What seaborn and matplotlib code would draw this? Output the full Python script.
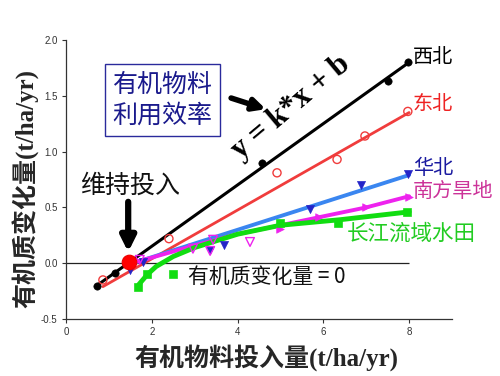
import matplotlib
matplotlib.use("Agg")
import matplotlib.pyplot as plt
import seaborn as sns
import pandas as pd
import numpy as np

# ---------------- data ----------------
# 西北 (north-west)
nw_x = [0.72, 1.14, 4.57, 7.50, 7.97]
nw_y = [-0.20, -0.09, 0.90, 1.63, 1.80]
nw_fit_x = [0.72, 8.0]
nw_fit_y = [-0.20, 1.80]

# 东北 (north-east)
ne_x = [0.86, 2.40, 4.92, 6.32, 6.97, 7.97]
ne_y = [-0.15, 0.22, 0.81, 0.93, 1.14, 1.36]
ne_fit_x = [0.86, 8.0]
ne_fit_y = [-0.21, 1.35]

# 华北 (north China)
nc_x = [1.49, 1.80, 3.36, 3.68, 5.69, 6.88, 7.97]
nc_y = [-0.06, 0.01, 0.12, 0.16, 0.49, 0.70, 0.80]
nc_fit_x = [1.40, 8.0]
nc_fit_y = [-0.02, 0.79]

# 南方旱地 (southern upland)
su_x = [1.72, 2.96, 3.36, 3.43, 4.29]
su_y = [0.03, 0.13, 0.11, 0.21, 0.19]
su_on_x = [5.00, 5.90, 7.00, 8.00]
su_on_y = [0.31, 0.41, 0.50, 0.59]
su_fit_x = [1.5, 2.0, 3.0, 4.0, 5.0, 6.0, 7.0, 8.0]
su_fit_y = [0.00, 0.05, 0.16, 0.26, 0.34, 0.42, 0.50, 0.60]

# 长江流域水田 (Yangtze paddy)
yp_x = [1.68, 1.89, 2.49, 5.00, 6.34, 7.95]
yp_y = [-0.21, -0.10, -0.10, 0.36, 0.36, 0.46]
yp_fit_x = [1.7, 1.9, 2.1, 2.5, 3.0, 3.5, 4.0, 5.0, 6.4, 8.0]
yp_fit_y = [-0.19, -0.10, -0.03, 0.06, 0.14, 0.20, 0.26, 0.34, 0.39, 0.46]

# maintenance input point
maint_x = [1.47]
maint_y = [0.01]

zero_x = [0, 8]

series_labels = ["西北", "东北", "华北", "南方旱地", "长江流域水田"]
x_ticks = [0, 2, 4, 6, 8]
y_ticks = [-0.5, 0.0, 0.5, 1.0, 1.5, 2.0]

# ---------------- style ----------------
sns.set_style("white")
plt.rcParams["font.family"] = ["Noto Sans CJK SC", "DejaVu Sans"]

fig = plt.figure(figsize=(5.0, 3.76), dpi=100)
ax = fig.add_axes([0.132, 0.1516, 0.772, 0.742])

c_black = "#000000"
c_red = "#f03c3c"
c_blue_line = "#3a86f0"
c_blue_mk = "#2424c8"
c_mag = "#ee22ee"
c_green = "#11dd11"

# fit lines
sns.lineplot(x=nw_fit_x, y=nw_fit_y, ax=ax, color=c_black, lw=2.2, zorder=3)
sns.lineplot(x=ne_fit_x, y=ne_fit_y, ax=ax, color=c_red, lw=2.0, zorder=3)
sns.lineplot(x=nc_fit_x, y=nc_fit_y, ax=ax, color=c_blue_line, lw=2.8, zorder=3)
sns.lineplot(x=su_fit_x, y=su_fit_y, ax=ax, color=c_mag, lw=2.8, zorder=3, sort=False)
sns.lineplot(x=yp_fit_x, y=yp_fit_y, ax=ax, color=c_green, lw=3.5, zorder=3, sort=False)

# points
sns.scatterplot(x=nw_x, y=nw_y, ax=ax, color=c_black, s=28, marker="o",
                edgecolor=c_black, zorder=5)
sns.scatterplot(x=ne_x, y=ne_y, ax=ax, s=34, marker="o", facecolor="none",
                edgecolor=c_red, linewidth=1.0, zorder=5)
sns.scatterplot(x=nc_x, y=nc_y, ax=ax, color=c_blue_mk, s=34, marker="v",
                edgecolor=c_blue_mk, zorder=5)
sns.scatterplot(x=su_x, y=su_y, ax=ax, s=40, marker="v", facecolor="none",
                edgecolor=c_mag, linewidth=1.0, zorder=5)
sns.scatterplot(x=su_on_x, y=su_on_y, ax=ax, color=c_mag, s=30, marker=">",
                edgecolor=c_mag, zorder=5)
sns.scatterplot(x=yp_x, y=yp_y, ax=ax, color=c_green, s=34, marker="s",
                edgecolor=c_green, zorder=5)
sns.scatterplot(x=maint_x, y=maint_y, ax=ax, color="#ff0000", s=110, marker="o",
                edgecolor="#ee0000", zorder=6)

# zero line
ax.hlines(0, zero_x[0], zero_x[1], color="#222222", lw=0.9, zorder=2)

# axes
ax.set_xlim(0, 9)
ax.set_ylim(-0.5, 2.0)
ax.set_xticks(x_ticks)
ax.set_yticks(y_ticks)
ax.set_yticklabels([f"{v:.1f}" for v in y_ticks])
ax.tick_params(axis="both", labelsize=7, colors="#333333", length=3, width=0.8,
               direction="out", pad=3)
for lab in ax.get_xticklabels() + ax.get_yticklabels():
    lab.set_family(["Liberation Sans", "DejaVu Sans"])
ax.xaxis.set_ticks_position("bottom")
ax.yaxis.set_ticks_position("left")
for s in ["top", "right"]:
    ax.spines[s].set_visible(False)
for s in ["left", "bottom"]:
    ax.spines[s].set_color("#333333")
    ax.spines[s].set_linewidth(0.9)
ax.set_xlabel("")
ax.set_ylabel("")

lab_font = ["Liberation Serif", "Noto Sans CJK SC"]
fig.text(0.532, 1 - 358 / 376, "有机物料投入量(t/ha/yr)", ha="center", va="center",
         fontsize=18, fontweight="bold", family=lab_font)
fig.text(0.052, 1 - 188 / 376, "有机质变化量(t/ha/yr)", ha="center", va="center",
         rotation=90, fontsize=18, fontweight="bold", family=lab_font)

# series labels
lab_kw = dict(fontsize=14.5, ha="left", va="center", zorder=7)
ax.text(8.09, 1.84, series_labels[0], color="#000000", **lab_kw)
ax.text(8.09, 1.42, series_labels[1], color="#ee2222", **lab_kw)
ax.text(8.09, 0.85, series_labels[2], color="#1a1aa0", **lab_kw)
ax.text(8.09, 0.645, series_labels[3], color="#cc3399", **lab_kw)
ax.text(6.55, 0.26, series_labels[4], color="#22cc22", fontsize=15.5,
        ha="left", va="center", zorder=7)

# zero-line note
ax.text(2.84, -0.125, "有机质变化量 = 0", color="#111111", fontsize=15,
        ha="left", va="center", family=["Noto Sans CJK SC", "DejaVu Sans"])

# maintenance input annotation
ax.text(1.49, 0.69, "维持投入", fontsize=18, ha="center", va="center", color="#111111")
ax.annotate("", xy=(1.45, 0.10), xytext=(1.45, 0.55),
            arrowprops=dict(arrowstyle="-|>", lw=4.5, color="black",
                            mutation_scale=22, shrinkA=0, shrinkB=0), zorder=7)

# efficiency box
ax.text(2.25, 1.46, "有机物料\n利用效率", fontsize=18, ha="center", va="center",
        color="#1a1a8c", linespacing=1.25,
        bbox=dict(boxstyle="square,pad=0.3", facecolor="white",
                  edgecolor="#2a2a9c", linewidth=1.0))
ax.annotate("", xy=(4.66, 1.38), xytext=(3.85, 1.48),
            arrowprops=dict(arrowstyle="-|>", lw=4.0, color="black",
                            mutation_scale=18, shrinkA=0, shrinkB=0), zorder=7)

# equation
ax.text(5.25, 1.40, "y = k*x + b", fontsize=22, fontweight="bold", rotation=40,
        rotation_mode="anchor", ha="center", va="center", color="black",
        family=["Liberation Serif", "DejaVu Serif"])

fig.savefig("out.png", dpi=100, facecolor="white")
